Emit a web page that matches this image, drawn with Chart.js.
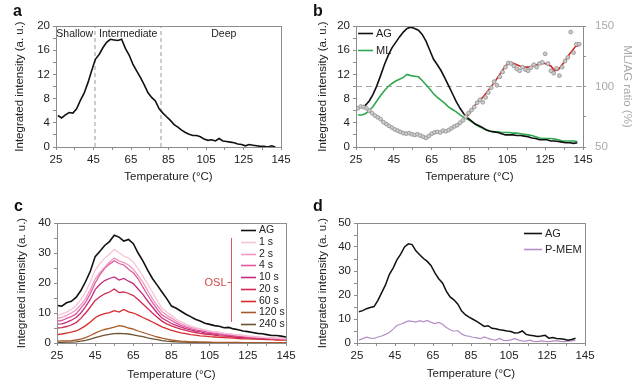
<!DOCTYPE html>
<html>
<head>
<meta charset="utf-8">
<script src="https://cdn.jsdelivr.net/npm/chart.js@4.4.0/dist/chart.umd.min.js"></script>
<style>
    body { margin: 0; background: #fff; width: 640px; height: 385px; position: relative; overflow: hidden; }
    .panel { position: absolute; overflow: hidden; }
    .panel canvas { position: absolute; top: 0; }
    .tag { position: absolute; font: bold 16px "Liberation Sans", Arial, sans-serif; line-height: 16px; color: #111; z-index: 5; }
</style>
</head>
<body>
<div class="panel" style="left:0;top:0;width:320px;height:192px"><canvas id="chartA" width="320" height="192" style="left:0"></canvas></div>
<div class="panel" style="left:310px;top:0;width:330px;height:192px"><canvas id="chartB" width="330" height="192" style="left:0"></canvas></div>
<div class="panel" style="left:0;top:192px;width:320px;height:193px"><canvas id="chartC" width="320" height="193" style="left:0"></canvas></div>
<div class="panel" style="left:310px;top:192px;width:330px;height:193px"><canvas id="chartD" width="330" height="193" style="left:0"></canvas></div>
<div class="tag" style="left:13px;top:3px">a</div>
<div class="tag" style="left:313px;top:3px">b</div>
<div class="tag" style="left:14px;top:198px">c</div>
<div class="tag" style="left:313px;top:198px">d</div>
<script>
"use strict";

// шкалы и подписи
const xTicks = [25, 35, 45, 55, 65, 75, 85, 95, 105, 115, 125, 135, 145];
const xLabels = [25, 45, 65, 85, 105, 125, 145];

// --- панель a ---
const tempAB = [26, 28, 30, 32, 34, 36, 38, 40, 42, 44,
    46, 48, 50, 52, 54, 56, 58, 60, 62, 64,
    66, 68, 70, 72, 74, 76, 78, 80, 82, 84,
    86, 88, 90, 92, 94, 96, 98, 100, 102, 104,
    106, 108, 110, 112, 114, 116, 118, 120, 122, 124,
    126, 128, 130, 132, 134, 136, 138, 140, 142];
const aIntensity = [5.2, 4.8, 5.3, 5.7, 5.6, 6.3, 7.7, 8.9, 10.6, 12.6,
    14.5, 15.3, 16.4, 17.3, 17.8, 17.7, 17.6, 17.8, 16.3, 15.2,
    13.7, 12.6, 11.5, 10.3, 9.0, 8.2, 7.6, 6.3, 5.6, 5.0,
    4.4, 3.7, 3.3, 2.8, 2.4, 2.1, 1.9, 1.9, 1.7, 1.3,
    1.1, 1.2, 1.0, 1.4, 1.0, 0.9, 0.8, 0.7, 0.5, 0.4,
    0.2, 0.4, 0.3, 0.2, 0.1, 0.1, 0.0, 0.2, 0.0];
const regionNames = ['Shallow', 'Intermediate', 'Deep'];
const regionCenters = [35, 63.5, 114.5];
const regionBounds = [45.8, 81];

// --- панель b ---
const bAG = [6.5, 6.6, 6.9, 7.6, 8.7, 10.1, 11.8, 13.6, 15.1, 16.4,
    17.3, 18.2, 19.0, 19.6, 19.8, 19.6, 19.3, 18.6, 17.5, 16.0,
    14.5, 13.6, 12.6, 11.4, 10.1, 8.8, 7.5, 6.4, 5.5, 4.8,
    4.3, 3.8, 3.5, 3.2, 2.8, 2.6, 2.5, 2.4, 2.2, 2.0,
    2.0, 2.0, 1.9, 1.9, 1.8, 1.7, 1.5, 1.4, 1.2, 1.2,
    1.2, 1.0, 1.0, 0.9, 0.8, 0.7, 0.7, 0.6, 0.7];
const bML = [5.3, 5.3, 5.5, 6.0, 6.7, 7.6, 8.5, 9.3, 10.0, 10.5,
    10.9, 11.2, 11.5, 12.0, 11.8, 11.7, 11.6, 11.0, 10.3, 9.6,
    8.8, 8.2, 7.7, 7.2, 6.6, 6.2, 5.8, 5.3, 4.9, 4.6,
    4.2, 3.8, 3.4, 3.1, 2.8, 2.6, 2.5, 2.5, 2.4, 2.4,
    2.4, 2.3, 2.3, 2.2, 2.1, 2.0, 1.9, 1.7, 1.5, 1.4,
    1.4, 1.4, 1.3, 1.2, 1.0, 1.0, 1.0, 1.0, 0.9];
const ratioTemps = [26, 27.5, 29, 30.5, 32, 33.5, 35, 36.5, 38, 39.5,
    41, 42.5, 44, 45.5, 47, 48.5, 50, 51.5, 53, 54.5,
    56, 57.5, 59, 60.5, 62, 63.5, 65, 66.5, 68, 69.5,
    71, 72.5, 74, 75.5, 77, 78.5, 80, 81.5, 83, 84.5,
    86, 87.5, 89, 90.5, 92, 93.5, 95, 96.5, 98, 99.5,
    101, 102.5, 104, 105.5, 107, 108.5, 110, 111.5, 113, 114.5,
    116, 117.5, 119, 120.5, 122, 123.5, 125, 126.5, 128, 129.5,
    131, 132.5, 134, 135.5, 137, 138.5, 140, 141.5, 143];
const ratioValues = [82, 83.5, 83, 82, 80, 78, 76, 74.5, 73, 70.5,
    69, 67.5, 66, 64.5, 63.5, 62.5, 61.5, 61, 61.5, 60.5,
    60, 60.5, 59.5, 58.5, 57.5, 59, 61, 62, 62.5, 62,
    63.5, 63, 64, 65.5, 67, 68, 70, 72, 75, 78,
    80.5, 83, 86.5, 89, 87, 91, 95, 99, 104, 101,
    108, 112, 116, 119.5, 119, 117, 114.5, 113, 116, 114,
    113, 115.5, 118, 116, 119, 120, 127, 119, 113, 111,
    115, 109, 116, 121, 124, 145, 128, 135, 135];
const fitTemps = [83, 86, 89, 92, 95, 98, 101, 104, 107, 110, 113, 116, 119, 122, 125, 128, 130, 132, 135, 138, 141, 143];
const fitValues = [74, 80, 87, 91, 97, 103, 110, 117, 120, 118, 116, 116, 117, 119, 119, 117, 113, 114, 120, 127, 133, 134];
const refRatio = 100;

// --- панель c ---
const tempC = [25, 27.5, 30, 32.5, 35, 37.5, 40, 42.5, 45, 47.5,
    50, 52.5, 55, 57.5, 60, 62.5, 65, 67.5, 70, 72.5,
    75, 77.5, 80, 82.5, 85, 87.5, 90, 92.5, 95, 97.5,
    100, 102.5, 105, 107.5, 110, 112.5, 115, 117.5, 120, 122.5,
    125, 127.5, 130, 132.5, 135, 137.5, 140, 142.5, 145];
const cNames = ['AG', '1 s', '2 s', '4 s', '10 s', '20 s', '60 s', '120 s', '240 s'];
const cColors = ['#111111', '#f6c4d8', '#f197c0', '#e05a9e', '#c52a7b', '#d2294f', '#d62b2b', '#a85a28', '#6b5234'];
const cAG = [12.5, 12.3, 13.4, 13.9, 15.2, 17.5, 20.5, 24.0, 28.8, 30.6,
    32.5, 33.8, 35.9, 35.3, 34.0, 34.5, 33.1, 30.0, 27.4, 24.3,
    21.5, 19.3, 17.0, 14.8, 12.3, 11.6, 10.6, 9.6, 8.8, 7.9,
    7.3, 6.6, 6.2, 5.8, 5.6, 5.1, 5.2, 4.7, 4.4, 4.0,
    3.8, 3.5, 3.2, 3.1, 2.8, 2.5, 2.5, 2.3, 2.0];
const c1s = [9.2, 9.6, 10.3, 11.2, 12.5, 14.5, 17.0, 20.5, 24.3, 26.5,
    28.3, 29.6, 31.2, 30.1, 29.0, 28.3, 27.0, 24.8, 22.3, 19.6,
    17.0, 14.2, 11.6, 10.3, 9.2, 8.0, 7.1, 6.3, 5.7, 5.1,
    4.8, 4.4, 4.0, 3.8, 3.6, 3.3, 3.1, 2.9, 2.6, 2.5,
    2.3, 2.1, 2.0, 1.9, 1.8, 1.6, 1.6, 1.5, 1.4];
const c2s = [8.2, 8.5, 9.2, 10.0, 11.0, 12.8, 14.8, 17.8, 21.3, 23.5,
    25.3, 27.0, 28.3, 27.4, 26.8, 26.0, 24.6, 22.5, 20.2, 17.5,
    14.8, 12.5, 10.5, 9.3, 8.3, 7.3, 6.5, 5.8, 5.2, 4.9,
    4.6, 4.2, 3.9, 3.6, 3.4, 3.1, 3.0, 2.8, 2.7, 2.5,
    2.3, 2.2, 2.0, 1.9, 1.8, 1.7, 1.6, 1.6, 1.5];
const c4s = [7.3, 7.5, 8.2, 8.8, 9.7, 11.6, 13.6, 16.5, 20.0, 22.8,
    24.9, 26.3, 27.4, 26.5, 26.0, 24.6, 23.4, 21.4, 18.6, 16.0,
    13.5, 11.3, 9.3, 8.4, 7.5, 6.6, 5.9, 5.3, 4.8, 4.4,
    4.1, 3.8, 3.5, 3.2, 3.0, 2.8, 2.6, 2.5, 2.3, 2.2,
    2.0, 1.9, 1.8, 1.7, 1.6, 1.5, 1.4, 1.4, 1.3];
const c10s = [6.3, 6.4, 6.9, 7.6, 8.5, 10.0, 12.1, 14.6, 17.8, 19.6,
    20.8, 21.5, 22.0, 21.0, 21.5, 20.6, 19.8, 18.0, 16.2, 14.0,
    12.0, 10.0, 8.3, 7.4, 6.5, 5.9, 5.3, 4.8, 4.4, 4.0,
    3.8, 3.4, 3.2, 3.0, 2.8, 2.6, 2.5, 2.3, 2.2, 2.0,
    1.9, 1.8, 1.7, 1.6, 1.5, 1.4, 1.4, 1.3, 1.2];
const c20s = [5.0, 5.1, 5.5, 6.0, 6.8, 8.2, 10.0, 12.0, 14.2, 15.4,
    16.4, 17.0, 18.0, 16.8, 17.0, 16.5, 15.8, 14.5, 13.0, 11.5,
    10.0, 8.6, 7.3, 6.4, 5.7, 5.1, 4.6, 4.2, 3.8, 3.5,
    3.2, 3.0, 2.8, 2.6, 2.4, 2.3, 2.2, 2.0, 1.9, 1.8,
    1.7, 1.6, 1.5, 1.4, 1.4, 1.3, 1.2, 1.2, 1.1];
const c60s = [2.8, 3.0, 3.3, 3.6, 4.0, 4.8, 5.8, 7.0, 8.4, 9.3,
    9.8, 10.1, 10.8, 10.3, 11.2, 10.4, 10.0, 9.3, 8.5, 7.8,
    7.0, 6.2, 5.4, 4.8, 4.2, 3.8, 3.4, 3.1, 2.8, 2.6,
    2.4, 2.3, 2.1, 2.0, 1.9, 1.8, 1.7, 1.6, 1.5, 1.4,
    1.4, 1.3, 1.3, 1.2, 1.1, 1.1, 1.0, 1.0, 1.0];
const c120s = [0.6, 0.7, 0.7, 0.8, 1.0, 1.3, 1.8, 2.5, 3.3, 4.0,
    4.5, 4.9, 5.3, 5.8, 5.5, 5.0, 4.6, 4.0, 3.5, 3.0,
    2.5, 2.0, 1.6, 1.3, 1.0, 0.8, 0.6, 0.5, 0.4, 0.4,
    0.3, 0.3, 0.3, 0.2, 0.2, 0.2, 0.2, 0.2, 0.2, 0.1,
    0.1, 0.1, 0.1, 0.1, 0.1, 0.1, 0.1, 0.1, 0.1];
const c240s = [0.2, 0.2, 0.3, 0.3, 0.4, 0.6, 0.9, 1.3, 1.8, 2.2,
    2.6, 2.9, 3.1, 3.2, 3.1, 3.0, 2.7, 2.4, 2.1, 1.7,
    1.4, 1.1, 0.8, 0.6, 0.5, 0.4, 0.3, 0.3, 0.2, 0.2,
    0.2, 0.2, 0.1, 0.1, 0.1, 0.1, 0.1, 0.1, 0.1, 0.1,
    0.1, 0.1, 0.1, 0.1, 0.1, 0.1, 0.1, 0.1, 0.1];

// --- панель d ---
const tempD = [26, 28, 30, 32, 34, 36, 38, 40, 42, 44,
    46, 48, 50, 52, 54, 56, 58, 60, 62, 64,
    66, 68, 70, 72, 74, 76, 78, 80, 82, 84,
    86, 88, 90, 92, 94, 96, 98, 100, 102, 104,
    106, 108, 110, 112, 114, 116, 118, 120, 122, 124,
    126, 128, 130, 132, 134, 136, 138, 140];
const dAG = [13.0, 13.5, 14.3, 14.8, 15.2, 17.8, 21.0, 24.2, 28.5, 31.2,
    34.6, 37.0, 40.0, 41.3, 41.0, 38.4, 36.8, 35.2, 34.0, 32.2,
    29.2, 26.8, 25.0, 21.6, 19.2, 18.0, 16.3, 13.4, 11.8, 10.8,
    9.9, 9.0, 8.0, 6.9, 7.2, 6.1, 5.9, 5.5, 5.3, 5.0,
    4.8, 4.2, 4.3, 5.0, 3.6, 3.2, 3.0, 2.7, 2.9, 3.2,
    2.0, 2.3, 1.9, 1.8, 1.6, 1.2, 1.5, 2.0];
const dPMEM = [1.2, 1.8, 2.4, 2.0, 1.9, 2.5, 2.9, 3.6, 4.4, 5.8,
    7.3, 7.8, 8.5, 9.2, 9.0, 8.7, 9.3, 8.8, 9.4, 8.6,
    8.1, 8.6, 7.8, 6.5, 5.5, 4.9, 5.2, 3.8, 3.1, 2.8,
    2.4, 2.1, 1.8, 2.5, 1.9, 1.4, 1.2, 1.9, 1.1, 1.0,
    1.3, 1.8, 1.2, 0.9, 0.8, 1.2, 0.7, 0.6, 0.9, 0.7,
    0.6, 0.8, 1.0, 0.7, 0.6, 0.8, 0.9, 1.2];

const axisGray = '#8c8c8c';
const textColor = '#222';
const fontFamily = '"Liberation Sans", Arial, sans-serif';

Chart.defaults.font.family = fontFamily;
Chart.defaults.font.size = 11.5;
Chart.defaults.color = textColor;
Chart.defaults.animation = false;

function pts(xs, ys) {
    return xs.map((x, i) => ({x: x, y: ys[i]}));
}

function range(from, to, step) {
    const out = [];
    for (let v = from; v <= to + 1e-9; v += step) out.push(v);
    return out;
}

function xAxis(height, titlePad) {
    return {
        type: 'linear', min: 25, max: 145,
        afterBuildTicks: s => { s.ticks = xTicks.map(v => ({value: v})); },
        afterFit: s => { s.height = height; },
        ticks: {autoSkip: false, maxRotation: 0, padding: 3, callback: v => xLabels.includes(v) ? v : ''},
        grid: {drawOnChartArea: false, tickLength: 3, tickColor: axisGray},
        border: {color: axisGray},
        title: {display: true, text: 'Temperature (°C)', padding: {top: 0, bottom: titlePad}}
    };
}

function yAxis(width, max, step, labelStep, titlePad) {
    const tk = range(0, max, step);
    return {
        type: 'linear', min: 0, max: max,
        afterBuildTicks: s => { s.ticks = tk.map(v => ({value: v})); },
        afterFit: s => { s.width = width; },
        ticks: {autoSkip: false, padding: 3, callback: v => v % labelStep === 0 ? v : ''},
        grid: {drawOnChartArea: false, tickLength: 3, tickColor: axisGray},
        border: {color: axisGray},
        title: {display: true, text: 'Integrated intensity (a. u.)', padding: {top: titlePad, bottom: 0}}
    };
}

// рамка вокруг области графика
const framePlugin = {
    id: 'frame',
    afterDatasetsDraw(chart) {
        const a = chart.chartArea, ctx = chart.ctx;
        ctx.save();
        ctx.strokeStyle = axisGray;
        ctx.lineWidth = 1;
        ctx.strokeRect(Math.round(a.left) + 0.5, Math.round(a.top) + 0.5, Math.round(a.right - a.left), Math.round(a.bottom - a.top));
        ctx.restore();
    }
};

// маленькая легенда внутри поля
const legendPlugin = {
    id: 'miniLegend',
    afterDraw(chart, args, o) {
        const a = chart.chartArea, ctx = chart.ctx;
        ctx.save();
        ctx.font = o.size + 'px ' + fontFamily;
        ctx.textBaseline = 'middle';
        o.items.forEach((idx, k) => {
            const ds = chart.data.datasets[idx];
            const x = a.left + o.dx;
            const y = Math.round(a.top + o.dy + k * o.gap) + 0.5;
            ctx.strokeStyle = ds.borderColor;
            ctx.lineWidth = o.lw;
            ctx.beginPath();
            ctx.moveTo(x, y);
            ctx.lineTo(x + o.len, y);
            ctx.stroke();
            ctx.fillStyle = textColor;
            ctx.fillText(ds.label, x + o.len + 3, y);
        });
        ctx.restore();
    }
};

// зоны Shallow / Intermediate / Deep
const regionPlugin = {
    id: 'regions',
    afterDraw(chart) {
        const a = chart.chartArea, ctx = chart.ctx, xs = chart.scales.x;
        ctx.save();
        ctx.font = '10.5px ' + fontFamily;
        ctx.fillStyle = textColor;
        ctx.textAlign = 'center';
        ctx.textBaseline = 'middle';
        regionNames.forEach((n, i) => ctx.fillText(n, xs.getPixelForValue(regionCenters[i]), a.top + 8));
        ctx.restore();
    }
};

// скобка OSL
const oslPlugin = {
    id: 'osl',
    afterDraw(chart) {
        const a = chart.chartArea, ctx = chart.ctx;
        const x = Math.round(a.left + 174) + 0.5;
        ctx.save();
        ctx.strokeStyle = '#d65a5a';
        ctx.lineWidth = 1;
        ctx.beginPath();
        ctx.moveTo(x, a.top + 15);
        ctx.lineTo(x, a.top + 99);
        ctx.moveTo(x - 4, a.top + 59.5);
        ctx.lineTo(x, a.top + 59.5);
        ctx.stroke();
        ctx.font = '11px ' + fontFamily;
        ctx.fillStyle = '#d64545';
        ctx.textAlign = 'right';
        ctx.textBaseline = 'middle';
        ctx.fillText('OSL', x - 5, a.top + 59.5);
        ctx.restore();
    }
};

function lineSet(label, xs, ys, color, width) {
    return {label: label, data: pts(xs, ys), borderColor: color, backgroundColor: color,
        borderWidth: width, pointRadius: 0, tension: 0, fill: false};
}

const common = {
    responsive: false,
    maintainAspectRatio: false,
    events: [],
    plugins: {legend: {display: false}, tooltip: {enabled: false}}
};

// --- a ---
new Chart(document.getElementById('chartA'), {
    type: 'line',
    data: {
        datasets: [
            lineSet('AG', tempAB, aIntensity, '#111', 1.6),
            Object.assign(lineSet('b1', [regionBounds[0], regionBounds[0]], [0, 20], '#9a9a9a', 1), {borderDash: [4, 3]}),
            Object.assign(lineSet('b2', [regionBounds[1], regionBounds[1]], [0, 20], '#9a9a9a', 1), {borderDash: [4, 3]})
        ]
    },
    options: Object.assign({}, common, {
        layout: {padding: {left: 0, top: 26, right: 39, bottom: 0}},
        scales: {x: xAxis(45, 8), y: yAxis(56, 20, 2, 4, 13)}
    }),
    plugins: [framePlugin, regionPlugin]
});

// --- b ---
const ratioAxisTicks = [50, 75, 100, 125, 150];
new Chart(document.getElementById('chartB'), {
    type: 'line',
    data: {
        datasets: [
            Object.assign(lineSet('ref', [25, 145], [refRatio, refRatio], '#a8a8a8', 1.2), {yAxisID: 'y1', borderDash: [6, 4], order: 5}),
            Object.assign(lineSet('AG', tempAB, bAG, '#111', 1.6), {order: 3}),
            Object.assign(lineSet('ML', tempAB, bML, '#2fa84f', 1.6), {order: 3}),
            Object.assign(lineSet('fit', fitTemps, fitValues, '#d42424', 1.6), {yAxisID: 'y1', order: 2}),
            {label: 'ratio', data: pts(ratioTemps, ratioValues), yAxisID: 'y1', showLine: false, order: 1,
                pointRadius: 1.9, pointBackgroundColor: '#cdcdcd', pointBorderColor: '#959595', pointBorderWidth: 0.9,
                borderColor: '#959595'}
        ]
    },
    options: Object.assign({}, common, {
        layout: {padding: {left: 0, top: 26, right: 0, bottom: 0}},
        scales: {
            x: xAxis(45, 8),
            y: yAxis(46, 20, 2, 4, 6),
            y1: {
                type: 'linear', position: 'right', min: 50, max: 150,
                afterBuildTicks: s => { s.ticks = ratioAxisTicks.map(v => ({value: v})); },
                afterFit: s => { s.width = 57; },
                ticks: {autoSkip: false, padding: 9, color: '#a9a9a9', callback: v => v % 50 === 0 ? v : ''},
                grid: {drawOnChartArea: false, tickLength: 3, tickColor: axisGray},
                border: {color: axisGray},
                title: {display: true, text: 'ML/AG ratio (%)', color: '#a9a9a9', padding: {top: 6, bottom: 0}}
            }
        },
        plugins: Object.assign({}, common.plugins, {
            miniLegend: {items: [1, 2], dx: 2, dy: 7, gap: 17, len: 15, lw: 1.6, size: 11}
        })
    }),
    plugins: [framePlugin, legendPlugin]
});

// --- c ---
const cSeries = [cAG, c1s, c2s, c4s, c10s, c20s, c60s, c120s, c240s];
new Chart(document.getElementById('chartC'), {
    type: 'line',
    data: {
        datasets: cSeries.map((s, i) => Object.assign(lineSet(cNames[i], tempC, s, cColors[i], i === 0 ? 1.6 : 1.3), {order: i === 0 ? 0 : i}))
    },
    options: Object.assign({}, common, {
        layout: {padding: {left: 0, top: 31, right: 34, bottom: 0}},
        scales: {x: xAxis(42, 3), y: yAxis(57, 40, 5, 10, 15)},
        plugins: Object.assign({}, common.plugins, {
            miniLegend: {items: [0, 1, 2, 3, 4, 5, 6, 7, 8], dx: 184, dy: 7, gap: 11.75, len: 15, lw: 1.6, size: 10.5}
        })
    }),
    plugins: [framePlugin, legendPlugin, oslPlugin]
});

// --- d ---
new Chart(document.getElementById('chartD'), {
    type: 'line',
    data: {
        datasets: [
            lineSet('AG', tempD, dAG, '#111', 1.5),
            lineSet('P-MEM', tempD, dPMEM, '#b38fc6', 1.2)
        ]
    },
    options: Object.assign({}, common, {
        layout: {padding: {left: 0, top: 31, right: 55, bottom: 0}},
        scales: {x: xAxis(42, 4), y: yAxis(47, 50, 5, 10, 6)},
        plugins: Object.assign({}, common.plugins, {
            miniLegend: {items: [0, 1], dx: 167, dy: 10, gap: 16, len: 18, lw: 1.6, size: 11}
        })
    }),
    plugins: [framePlugin, legendPlugin]
});
</script>
</body>
</html>
